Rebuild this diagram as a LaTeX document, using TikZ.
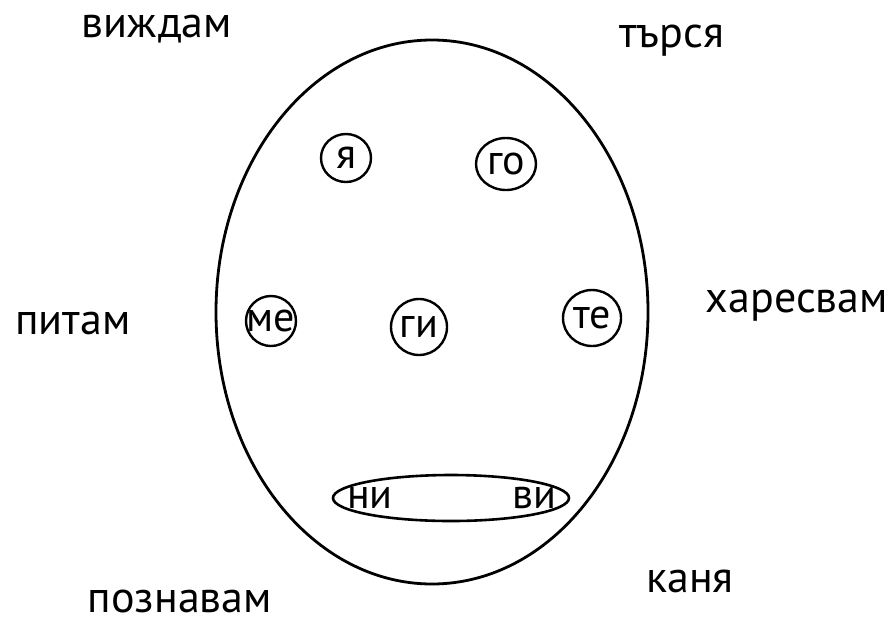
\documentclass[tikz,border=0pt]{standalone}
\usepackage{fontspec}
\usetikzlibrary{shapes.geometric}
\setmainfont{PT Sans}
\begin{document}
\begin{tikzpicture}[x=1pt,y=-1pt,
  verb/.style={font=\fontsize{44}{44}\selectfont, inner sep=0pt, anchor=base},
  pron/.style={font=\fontsize{42}{42}\selectfont, inner sep=0pt},
  ring/.style={draw, ellipse, line width=2.4pt, inner sep=0pt}]
\useasboundingbox (0,0) rectangle (896,625);
\draw[line width=2.8pt] (432,312) ellipse [x radius=216, y radius=272];
\node[ring, minimum width=50pt, minimum height=48pt] (yaring) at (346,158) {};
\node[ring, minimum width=60pt, minimum height=52pt] (goring) at (506,164) {};
\node[ring, minimum width=50pt, minimum height=50pt] (mering) at (271,321) {};
\node[ring, minimum width=56pt, minimum height=56pt] (giring) at (419,327) {};
\node[ring, minimum width=58pt, minimum height=56pt] (tering) at (592,318) {};
\node[pron] (ya) at (yaring) {я};
\node[pron] (go) at (goring) {го};
\node[pron] (me) at (mering) {ме};
\node[pron] (gi) at (giring) {ги};
\node[pron] (te) at (tering) {те};
\node[ring, line width=2.6pt, minimum width=236pt, minimum height=46pt] (mouth) at (451,498) {};
\node[pron] (ni) at (370,498) {ни};
\node[pron] (vi) at (534,498) {ви};
\node[verb] (vizhdam) at (157,37) {виждам};
\node[verb] (tarsya) at (672,47) {търся};
\node[verb] (pitam) at (73,334) {питам};
\node[verb] (haresvam) at (797,312) {харесвам};
\node[verb] (poznavam) at (180,612) {познавам};
\node[verb] (kanya) at (690,592) {каня};
\end{tikzpicture}
\end{document}
